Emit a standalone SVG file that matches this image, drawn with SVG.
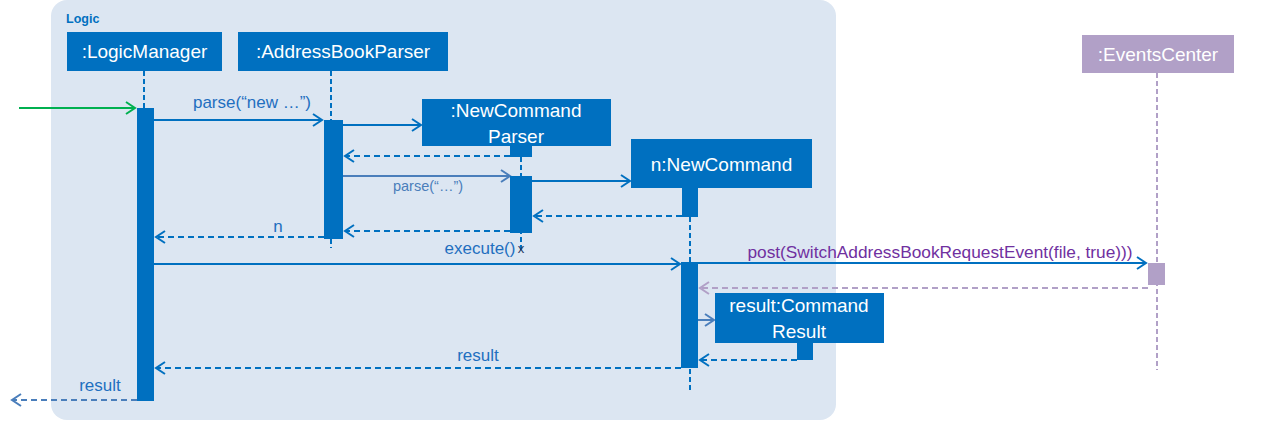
<svg xmlns="http://www.w3.org/2000/svg" width="1261" height="431" viewBox="0 0 1261 431">
<style>
.box{fill:#0070C0}
.pbox{fill:#B1A0C7}
.bt{font-family:"Liberation Sans",Arial,sans-serif;font-size:19px;fill:#FFFFFF;text-anchor:middle}
.lbl{font-family:"Liberation Sans",Arial,sans-serif;font-size:17px;fill:#1F6FC0;text-anchor:middle}
.life{stroke:#0070C0;stroke-width:2;stroke-dasharray:5,3;fill:none}
.plife{stroke:#B1A0C7;stroke-width:2;stroke-dasharray:5,3;fill:none}
.msg{stroke:#0070C0;stroke-width:2;fill:none;marker-end:url(#ab)}
.msgl{stroke:#4A7EBB;stroke-width:2;fill:none;marker-end:url(#al)}
.ret{stroke:#0070C0;stroke-width:2;stroke-dasharray:6,4;fill:none;marker-end:url(#ab)}
.retl{stroke:#4A7EBB;stroke-width:2;stroke-dasharray:6,4;fill:none;marker-end:url(#al)}
.pret{stroke:#B1A0C7;stroke-width:2;stroke-dasharray:6,4;fill:none;marker-end:url(#ap)}
</style>
<defs>
<marker id="ab" markerUnits="userSpaceOnUse" markerWidth="14" markerHeight="14" refX="11" refY="7" orient="auto"><path d="M2,1 L11,7 L2,13" fill="none" stroke="#0070C0" stroke-width="2"/></marker>
<marker id="al" markerUnits="userSpaceOnUse" markerWidth="14" markerHeight="14" refX="11" refY="7" orient="auto"><path d="M2,1 L11,7 L2,13" fill="none" stroke="#4A7EBB" stroke-width="2"/></marker>
<marker id="ag" markerUnits="userSpaceOnUse" markerWidth="14" markerHeight="14" refX="11" refY="7" orient="auto"><path d="M2,1 L11,7 L2,13" fill="none" stroke="#00B050" stroke-width="2"/></marker>
<marker id="ap" markerUnits="userSpaceOnUse" markerWidth="14" markerHeight="14" refX="11" refY="7" orient="auto"><path d="M2,1 L11,7 L2,13" fill="none" stroke="#B1A0C7" stroke-width="2"/></marker>
</defs>
<rect width="1261" height="431" fill="#FFFFFF"/>
<g id="logic-frame">
<rect x="51" y="0" width="785" height="420" rx="16" fill="#DCE6F2"/>
<text x="66" y="23" style="font-family:'Liberation Sans',Arial,sans-serif;font-size:12.5px;font-weight:bold;fill:#0070C0">Logic</text>
</g>
<g id="lifelines">
<line class="life" x1="144" y1="71" x2="144" y2="108"/>
<line class="life" x1="331" y1="71" x2="331" y2="248"/>
<line class="life" x1="521" y1="157" x2="521" y2="250"/>
<line class="life" x1="690" y1="217" x2="690" y2="392"/>
<line class="plife" x1="1157" y1="73" x2="1157" y2="370"/>
</g>
<g id="connectors">
<line x1="19" y1="108" x2="135" y2="108" stroke="#00B050" stroke-width="2" marker-end="url(#ag)"/>
<line class="msg" x1="154" y1="120" x2="322" y2="120"/>
<text class="lbl" x="252" y="108">parse(“new …”)</text>
<line class="msg" x1="343" y1="125" x2="421" y2="125"/>
<line class="ret" x1="510" y1="156" x2="345" y2="156"/>
<line class="msgl" x1="343" y1="176" x2="510" y2="176"/>
<text class="lbl" x="428" y="191" style="font-size:14.5px;fill:#4A7EBB">parse(“…”)</text>
<line class="msg" x1="532" y1="181" x2="630" y2="181"/>
<line class="ret" x1="682" y1="216" x2="534" y2="216"/>
<line class="ret" x1="510" y1="231" x2="345" y2="231"/>
<line class="ret" x1="324" y1="237" x2="156" y2="237"/>
<text class="lbl" x="278" y="232">n</text>
<text x="521" y="253" style="font-family:'Liberation Sans',Arial,sans-serif;font-size:13px;fill:#1F3864;text-anchor:middle">x</text>
<line class="msg" x1="154" y1="264" x2="680" y2="264"/>
<text class="lbl" x="480" y="254">execute()</text>
<line class="msg" x1="698" y1="263" x2="1146" y2="263"/>
<text x="940" y="258" style="font-family:'Liberation Sans',Arial,sans-serif;font-size:17.3px;fill:#7030A0;text-anchor:middle">post(SwitchAddressBookRequestEvent(file, true)))</text>
<line class="pret" x1="1148" y1="288" x2="700" y2="288"/>
<line class="msgl" x1="698" y1="320" x2="714" y2="320"/>
<line class="ret" x1="797" y1="360" x2="700" y2="360"/>
<line class="ret" x1="681" y1="368" x2="156" y2="368"/>
<text class="lbl" x="478" y="361">result</text>
<line class="retl" x1="137" y1="400" x2="12" y2="400"/>
<text class="lbl" x="100" y="391">result</text>
</g>
<g id="LogicManager">
<rect class="box" x="67" y="32" width="155" height="39"/>
<text class="bt" x="144.5" y="58">:LogicManager</text>
<rect class="box" x="137" y="108" width="17" height="293"/>
</g>
<g id="AddressBookParser">
<rect class="box" x="238" y="32" width="210" height="39"/>
<text class="bt" x="343" y="58">:AddressBookParser</text>
<rect class="box" x="324" y="120" width="19" height="119"/>
</g>
<g id="NewCommandParser">
<rect class="box" x="422" y="99" width="189" height="47"/>
<text class="bt" x="516" y="117">:NewCommand</text>
<text class="bt" x="516" y="143">Parser</text>
<rect class="box" x="510" y="145" width="22" height="12"/>
<rect class="box" x="510" y="176" width="22" height="57"/>
</g>
<g id="NewCommand">
<rect class="box" x="631" y="139" width="181" height="49"/>
<text class="bt" x="721.5" y="171">n:NewCommand</text>
<rect class="box" x="682" y="187" width="16" height="30"/>
<rect class="box" x="681" y="262" width="17" height="106"/>
</g>
<g id="CommandResult">
<rect class="box" x="715" y="293" width="169" height="50"/>
<text class="bt" x="799" y="312">result:Command</text>
<text class="bt" x="799" y="338">Result</text>
<rect class="box" x="797" y="342" width="16" height="18"/>
</g>
<g id="EventsCenter">
<rect class="pbox" x="1082" y="35" width="152" height="38"/>
<text class="bt" x="1158" y="61">:EventsCenter</text>
<rect class="pbox" x="1148" y="263" width="17" height="22"/>
</g>
</svg>
